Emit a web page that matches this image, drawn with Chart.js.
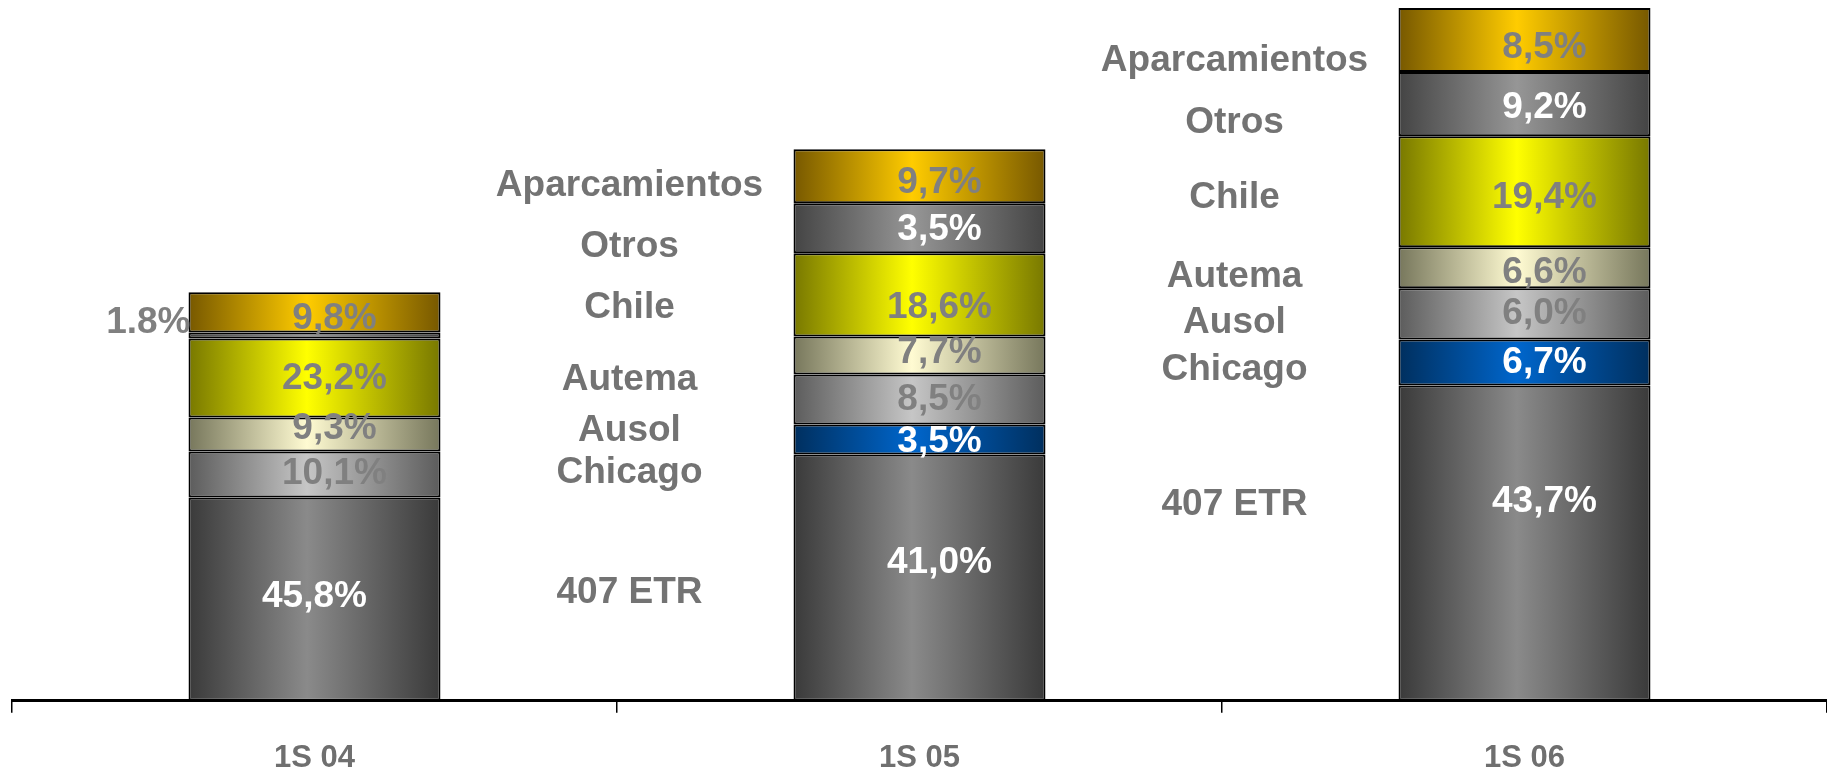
<!DOCTYPE html>
<html>
<head>
<meta charset="utf-8">
<script src="https://cdn.jsdelivr.net/npm/chart.js@4"></script>
<style>
  html, body { margin: 0; padding: 0; background: #fff; overflow: hidden; }
</style>
</head>
<body>
<canvas id="chart" width="1827" height="804"></canvas>
<script>
const periods = ["1S 04", "1S 05", "1S 06"];
const series = ["407 ETR", "Chicago", "Ausol", "Autema", "Chile", "Otros", "Aparcamientos"];

// segment sizes (same unit for the three bars)
const etr407 = [203, 246, 315];
const chicago = [0, 30, 46];
const ausol = [46, 50, 51];
const autema = [34, 38, 41];
const chile = [79, 83, 111];
const otros = [6, 50, 64];
const aparcamientos = [40, 54, 64];

// share labels printed on each segment
const pctEtr = ["45,8%", "41,0%", "43,7%"];
const pctChicago = ["", "3,5%", "6,7%"];
const pctAusol = ["10,1%", "8,5%", "6,0%"];
const pctAutema = ["9,3%", "7,7%", "6,6%"];
const pctChile = ["23,2%", "18,6%", "19,4%"];
const pctOtros = ["1.8%", "3,5%", "9,2%"];
const pctAparc = ["9,8%", "9,7%", "8,5%"];

const FONT = '"Liberation Sans", Arial, sans-serif';
const NARROW = '"Liberation Sans Narrow", "Arial Narrow", "Liberation Sans", sans-serif';
const GREY_TXT = "#808080";
const NAME_TXT = "#737373";
const barPct = 0.4165;

// small vertical nudges of the printed texts, per bar, in series order
const pctDy = [
  [-2, 0, -1, -6, 1, -13, 6],
  [-15, 2, 0, -3, 13, 2, 7],
  [-41, 0, 0, 5, 6, 4, 8]
];
const nameDy = [
  null,
  [15, 33, 31, 24, 13, 19, 10],
  [-38, 7, 9, 9, 6, 19, 21]
];

function shade(edge, mid) {
  return (c) => {
    const chart = c.chart;
    if (!chart.chartArea || c.dataIndex === undefined) return mid;
    const x = chart.scales.x;
    const w = (x.width / periods.length) * barPct;
    const cx = x.getPixelForValue(c.dataIndex);
    const g = chart.ctx.createLinearGradient(cx - w / 2, 0, cx + w / 2, 0);
    g.addColorStop(0, edge);
    g.addColorStop(0.47, mid);
    g.addColorStop(1, edge);
    return g;
  };
}

const values = [etr407, chicago, ausol, autema, chile, otros, aparcamientos];
const pcts = [pctEtr, pctChicago, pctAusol, pctAutema, pctChile, pctOtros, pctAparc];
const fills = [
  shade("#3a3a3a", "#8a8a8a"),
  shade("#002f5e", "#0066cc"),
  shade("#5c5c5c", "#c6c6c6"),
  shade("#77775c", "#fffbd2"),
  shade("#787800", "#ffff00"),
  shade("#444444", "#969696"),
  shade("#775800", "#ffcc00")
];
const pctColors = ["#fff", "#fff", GREY_TXT, GREY_TXT, GREY_TXT, "#fff", GREY_TXT];

// texts on and beside the bars
const labelPlugin = {
  id: "segmentLabels",
  afterDatasetsDraw(chart) {
    const ctx = chart.ctx;
    ctx.save();
    ctx.font = `bold 37px ${FONT}`;
    ctx.textBaseline = "middle";
    chart.data.datasets.forEach((ds, d) => {
      const meta = chart.getDatasetMeta(d);
      meta.data.forEach((el, i) => {
        if (!ds.data[i]) return;
        const left = el.x - el.width / 2;
        const mid = (el.y + el.base) / 2;
        const txt = pcts[d][i];
        if (i === 0 && d === 5) {
          // thin segment: label outside on the left
          ctx.textAlign = "right";
          ctx.fillStyle = GREY_TXT;
          ctx.fillText(txt, left + 2, mid + pctDy[i][d]);
        } else if (txt) {
          ctx.textAlign = "center";
          ctx.fillStyle = pctColors[d];
          const dx = (i === 0 && d === 0) ? 0 : 20;
          ctx.fillText(txt, el.x + dx, mid + pctDy[i][d]);
        }
        if (nameDy[i]) {
          ctx.textAlign = "center";
          ctx.fillStyle = NAME_TXT;
          ctx.fillText(series[d], left - 164, mid + nameDy[i][d]);
        }
      });
    });
    ctx.restore();
  }
};

new Chart(document.getElementById("chart"), {
  type: "bar",
  data: {
    labels: periods,
    datasets: series.map((name, d) => ({
      label: name,
      data: values[d],
      backgroundColor: fills[d],
      borderColor: "#000",
      borderWidth: 2,
      borderSkipped: false,
      barPercentage: barPct,
      categoryPercentage: 1
    }))
  },
  options: {
    responsive: false,
    animation: false,
    devicePixelRatio: 1,
    layout: { padding: { left: 12, right: 0, top: 0, bottom: 0 } },
    plugins: {
      legend: { display: false },
      tooltip: { enabled: false }
    },
    scales: {
      x: {
        stacked: true,
        grid: {
          offset: true,
          drawOnChartArea: false,
          color: "#000",
          lineWidth: 1.5,
          tickLength: 12
        },
        border: { color: "#000", width: 3 },
        ticks: {
          color: "#6f6f6f",
          padding: 27,
          font: { family: NARROW, size: 31, weight: "bold" }
        }
      },
      y: {
        stacked: true,
        display: false,
        min: 0,
        max: 700
      }
    }
  },
  plugins: [labelPlugin]
});
</script>
</body>
</html>
